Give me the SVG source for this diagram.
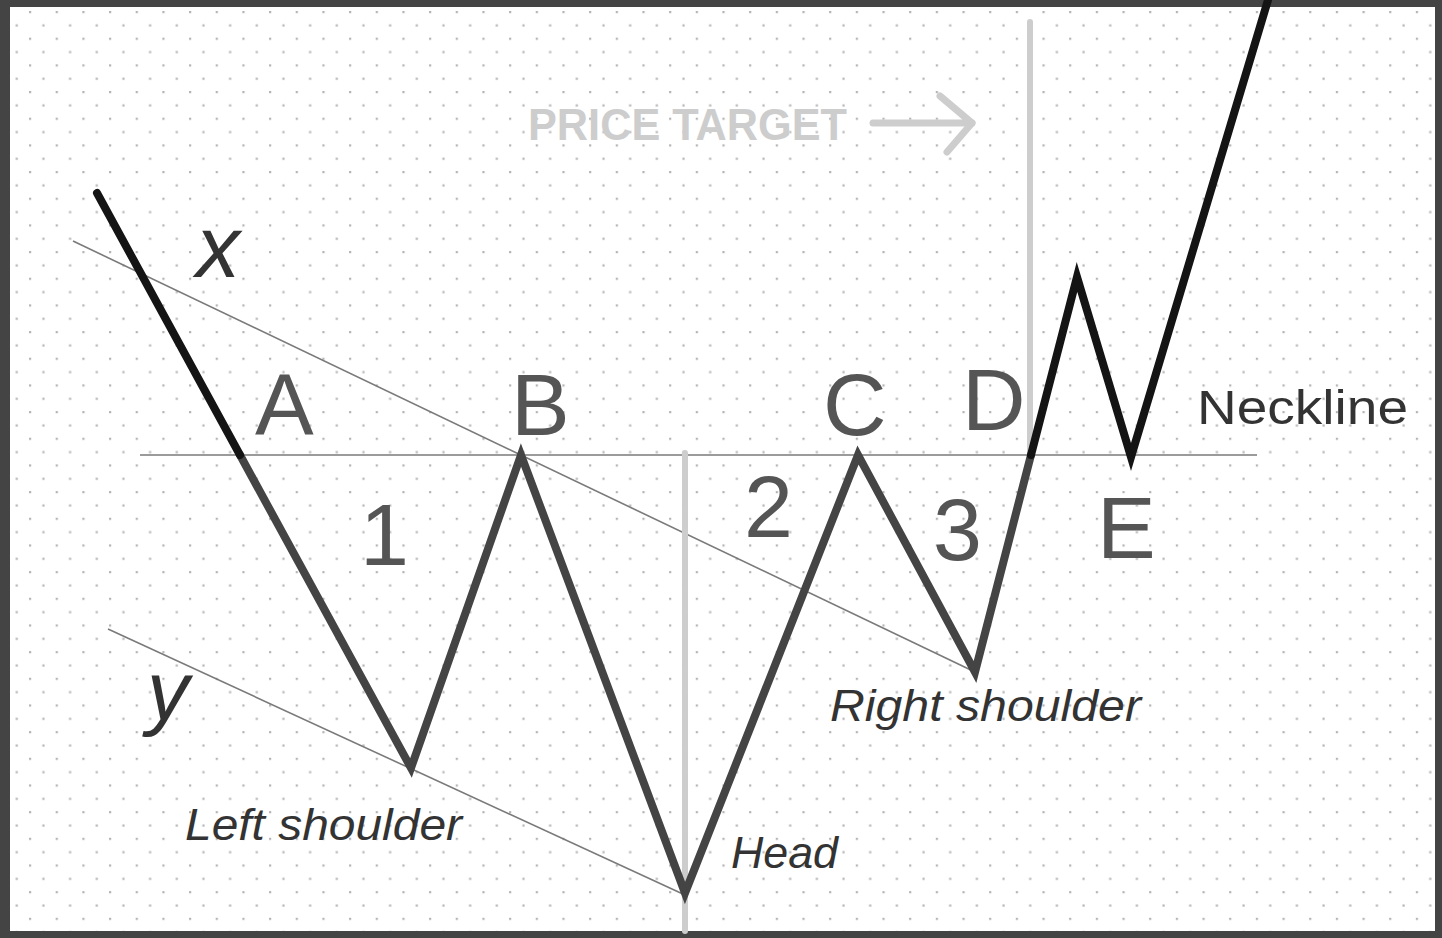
<svg xmlns="http://www.w3.org/2000/svg" width="1442" height="938" viewBox="0 0 1442 938">
<style>
.lbl{font-family:"Liberation Sans",Arial,sans-serif;fill:#555;font-size:88px}
.ital{font-family:"Liberation Sans",Arial,sans-serif;font-style:italic;fill:#333;font-size:44px}
.gray{fill:none;stroke:#444;stroke-width:8;stroke-linejoin:miter;stroke-linecap:round}
.black{fill:none;stroke:#141414;stroke-width:8;stroke-linejoin:miter;stroke-linecap:round}
.thin{fill:none;stroke:#7a7a7a;stroke-width:1.6}
.light{fill:none;stroke:#cdcdcd;stroke-width:6;stroke-linecap:round;stroke-linejoin:round}
</style>
<defs>
<pattern id="dots" patternUnits="userSpaceOnUse" x="29" y="11" width="26.67" height="26.67">
<rect x="0" y="0" width="2.2" height="2.2" fill="#b4b4b4"/>
<rect x="13.33" y="13.33" width="2.2" height="2.2" fill="#b4b4b4"/>
</pattern>
</defs>
<rect x="0" y="0" width="1442" height="938" fill="#444"/>
<rect x="10" y="7" width="1425" height="924" fill="#fff"/>
<rect x="10" y="7" width="1425" height="924" fill="url(#dots)"/>
<g id="connectors">
<line class="thin" x1="140" y1="455" x2="1257" y2="455"/>
<line class="thin" x1="73" y1="241" x2="975" y2="672"/>
<line class="thin" x1="108" y1="629" x2="685" y2="895"/>
<line class="light" x1="685" y1="453" x2="685" y2="931"/>
<line class="light" x1="1030" y1="22" x2="1030" y2="455"/>
<polyline class="gray" points="240,455 411,768 521,455 685,893 858,455 975,672 1031,455"/>
<polyline class="black" points="97,193 240,455"/>
<polyline class="black" points="1031,455 1077,277 1131,457 1268,0"/>
<polyline class="light" points="873,123 972,123" style="stroke-width:7"/>
<polyline class="light" points="940,96 972,123 947,152" style="stroke-width:7"/>
</g>
<g id="price-target"><text x="528" y="140" font-family="'Liberation Sans',Arial,sans-serif" font-weight="bold" font-size="45" fill="#cdcdcd" textLength="319" lengthAdjust="spacingAndGlyphs">PRICE TARGET</text></g>
<g id="label-x"><text x="196" y="277" font-family="'Liberation Sans',Arial,sans-serif" font-style="italic" font-size="88" fill="#333">x</text></g>
<g id="label-y"><text x="147" y="720" font-family="'Liberation Sans',Arial,sans-serif" font-style="italic" font-size="84" fill="#333">y</text></g>
<g id="label-A"><text class="lbl" x="255" y="435">A</text></g>
<g id="label-B"><text class="lbl" x="511" y="435">B</text></g>
<g id="label-C"><text class="lbl" x="823" y="435">C</text></g>
<g id="label-D"><text class="lbl" x="962" y="430">D</text></g>
<g id="label-E"><text class="lbl" x="1097" y="558">E</text></g>
<g id="label-1"><text class="lbl" x="360" y="565">1</text></g>
<g id="label-2"><text class="lbl" x="744" y="537">2</text></g>
<g id="label-3"><text class="lbl" x="933" y="560">3</text></g>
<g id="neckline"><text x="1197" y="424" font-family="'Liberation Sans',Arial,sans-serif" font-size="48" fill="#333" textLength="211" lengthAdjust="spacingAndGlyphs">Neckline</text></g>
<g id="left-shoulder"><text class="ital" x="185" y="840" textLength="277" lengthAdjust="spacingAndGlyphs">Left shoulder</text></g>
<g id="head"><text class="ital" x="731" y="868" textLength="107" lengthAdjust="spacingAndGlyphs">Head</text></g>
<g id="right-shoulder"><text class="ital" x="830" y="721" textLength="311" lengthAdjust="spacingAndGlyphs">Right shoulder</text></g>
</svg>
